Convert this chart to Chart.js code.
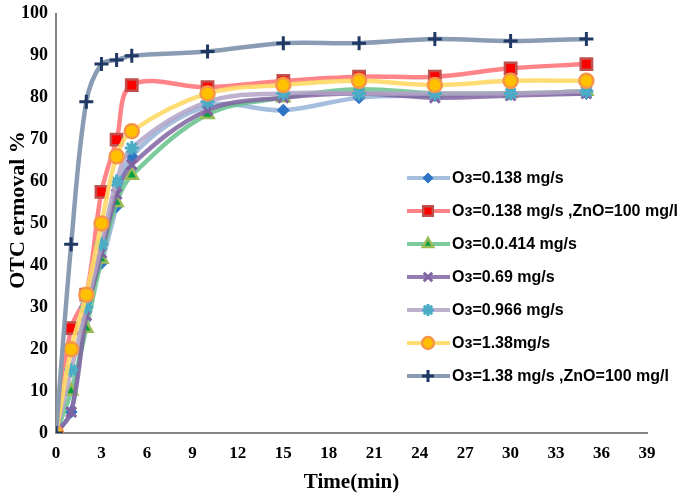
<!DOCTYPE html>
<html>
<head>
<meta charset="utf-8">
<script src="https://cdn.jsdelivr.net/npm/chart.js@4"></script>
<style>
  html, body { margin: 0; padding: 0; background: #fff; }
  #wrap { width: 685px; height: 499px; position: relative; }
</style>
</head>
<body>
<div id="wrap"><canvas id="otcChart"></canvas></div>
<script>
// time points (min)
const times = [0, 1, 2, 3, 4, 5, 10, 15, 20, 25, 30, 35];

// OTC removal % for each run
const o3_0138 = [0, 5, 30, 40.5, 54, 66, 78, 77, 80, 80.5, 81, 81];
const o3_0138_zno = [0, 25, 33, 57.5, 70, 83, 82.5, 84, 85, 85, 87, 88];
const o3_0414 = [0, 10, 25, 41.5, 55, 61.5, 76, 80, 82, 81, 81, 81.5];
const o3_069 = [0, 5, 28, 43, 57, 64, 77, 80, 81, 80, 80.5, 81];
const o3_0966 = [0, 15, 30, 45, 60, 68, 79, 81, 81, 81, 81, 81.5];
const o3_138 = [0, 20, 33, 50, 66, 72, 81, 83, 84, 83, 84, 84];
const o3_138_zno = [0, 45, 79, 88, 89, 90, 91, 93, 93, 94, 93.5, 94];

const seriesLabels = [
  'Oз=0.138 mg/s',
  'Oз=0.138 mg/s ,ZnO=100 mg/l',
  'Oз=0.0.414 mg/s',
  'Oз=0.69 mg/s',
  'Oз=0.966 mg/s',
  'Oз=1.38mg/s',
  'Oз=1.38 mg/s ,ZnO=100 mg/l'
];

const xTicks = [0, 3, 6, 9, 12, 15, 18, 21, 24, 27, 30, 33, 36, 39];
const yTitle = 'OTC ermoval %';

function pts(values) {
  return times.map((t, i) => ({ x: t, y: values[i] }));
}

function makeSet(label, values, line, style, fill, border, radius, bw) {
  return {
    label: label,
    data: pts(values),
    borderColor: line,
    borderWidth: 4.5,
    tension: 0.35,
    pointStyle: style,
    pointRadius: radius,
    pointBackgroundColor: fill,
    pointBorderColor: border,
    pointBorderWidth: bw
  };
}

const datasets = [
  makeSet(seriesLabels[0], o3_0138, 'rgba(149,179,215,0.85)', 'rectRot', '#2e75c6', '#2e75c6', 6, 1),
  makeSet(seriesLabels[1], o3_0138_zno, 'rgba(255,110,115,0.85)', 'rect', '#ff0000', '#c0504d', 8, 2.5),
  makeSet(seriesLabels[2], o3_0414, 'rgba(102,194,140,0.85)', 'triangle', '#00a040', '#9bbb59', 7, 2.5),
  makeSet(seriesLabels[3], o3_069, 'rgba(128,100,162,0.85)', 'crossRot', '#8064a2', '#8064a2', 7, 3),
  makeSet(seriesLabels[4], o3_0966, 'rgba(179,162,199,0.85)', 'star', '#4bacc6', '#4bacc6', 7, 3),
  makeSet(seriesLabels[5], o3_138, 'rgba(255,217,102,0.9)', 'circle', '#ffc000', '#f79646', 7, 2.5),
  makeSet(seriesLabels[6], o3_138_zno, 'rgba(132,151,176,0.95)', 'cross', '#1f3864', '#1f3864', 7, 3)
];
// draw the top series last
datasets.forEach((d, i) => { d.order = datasets.length - i; });

const serif = '"Liberation Serif", "Times New Roman", serif';

// Legend drawn inside the plot at the lower right, plus the y title
const insideLegend = {
  id: 'insideLegend',
  afterDraw(chart) {
    const ctx = chart.ctx;
    const x0 = 407, y0 = 178, step = 33;
    ctx.save();
    ctx.font = 'bold 16px "Liberation Sans", Arial, sans-serif';
    ctx.textBaseline = 'middle';
    chart.data.datasets.forEach((ds, i) => {
      const y = y0 + i * step;
      ctx.strokeStyle = ds.borderColor;
      ctx.lineWidth = 4;
      ctx.beginPath();
      ctx.moveTo(x0, y);
      ctx.lineTo(x0 + 43, y);
      ctx.stroke();
      ctx.fillStyle = ds.pointBackgroundColor;
      ctx.strokeStyle = ds.pointBorderColor;
      ctx.lineWidth = ds.pointBorderWidth;
      Chart.helpers.drawPoint(ctx, {
        pointStyle: ds.pointStyle,
        radius: ds.pointRadius * 0.85,
        rotation: 0,
        borderWidth: ds.pointBorderWidth
      }, x0 + 21, y);
      ctx.fillStyle = '#000';
      ctx.fillText(ds.label, x0 + 45, y + 1);
    });

    // y axis title, a bit above the middle like the original
    ctx.translate(18, 210);
    ctx.rotate(-Math.PI / 2);
    ctx.font = 'bold 22px ' + serif;
    ctx.textAlign = 'center';
    ctx.fillStyle = '#000';
    ctx.fillText(yTitle, 0, 0);
    ctx.restore();
  }
};

new Chart(document.getElementById('otcChart'), {
  type: 'line',
  data: { datasets: datasets },
  plugins: [insideLegend],
  options: {
    responsive: true,
    maintainAspectRatio: false,
    animation: false,
    layout: { padding: { top: 4, right: 38, left: 0, bottom: 0 } },
    plugins: {
      legend: { display: false },
      tooltip: { enabled: false }
    },
    scales: {
      x: {
        type: 'linear',
        min: 0,
        max: 39,
        afterBuildTicks: (scale) => { scale.ticks = xTicks.map(v => ({ value: v })); },
        grid: { display: false, drawOnChartArea: false, drawTicks: true, tickLength: 5, color: '#868686' },
        border: { color: '#868686', width: 2 },
        ticks: { color: '#000', font: { family: serif, size: 17, weight: 'bold' }, padding: 5, maxRotation: 0 },
        title: { display: true, text: 'Time(min)', color: '#000', font: { family: serif, size: 21, weight: 'bold' }, padding: { top: 0, bottom: 4 } },
        afterFit: (scale) => { scale.height = 66; }
      },
      y: {
        min: 0,
        max: 100,
        ticks: { stepSize: 10, color: '#000', font: { family: serif, size: 18, weight: 'bold' }, padding: 3 },
        grid: { display: false, drawOnChartArea: false, drawTicks: true, tickLength: 5, color: '#868686' },
        border: { color: '#868686', width: 2 },
        title: { display: false },
        afterFit: (scale) => { scale.width = 56; }
      }
    }
  }
});
</script>
</body>
</html>
